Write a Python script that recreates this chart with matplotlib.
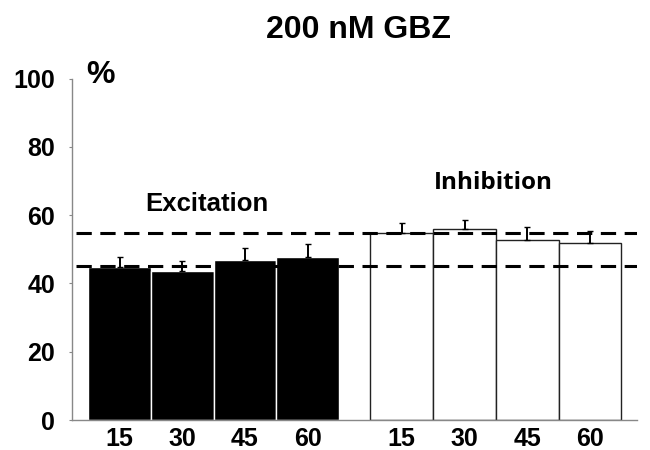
import matplotlib
matplotlib.use("Agg")
import matplotlib.pyplot as plt
import numpy as np

plt.rcParams['font.family'] = ['Liberation Sans', 'DejaVu Sans']

title = "200 nM GBZ"
time_labels = ["15", "30", "45", "60"]
excitation = [44.7, 43.6, 46.8, 47.7]
excitation_err = [2.9, 3.0, 3.7, 3.8]
inhibition = [54.8, 55.9, 52.8, 51.8]
inhibition_err = [2.8, 2.6, 3.7, 3.6]
ref_lines = [54.8, 45.0]
y_ticks = [0, 20, 40, 60, 80, 100]

fig = plt.figure(figsize=(6.5, 4.5), dpi=100)
ax = fig.add_axes([72/650, 1-420/450, 565/650, 341.5/450])

x_exc = np.arange(4)
x_inh = np.arange(4) + 4.5

ax.bar(x_exc, excitation, width=1.0, color='black', edgecolor='white', linewidth=1.0, zorder=2)
ax.bar(x_inh, inhibition, width=1.0, color='white', edgecolor='#222222', linewidth=1.0, zorder=2)

ax.errorbar(x_exc, excitation, yerr=[np.zeros(4), excitation_err], fmt='none',
            ecolor='black', elinewidth=1.4, capsize=2.5, capthick=1.0, zorder=3)
ax.errorbar(x_inh, inhibition, yerr=[np.zeros(4), inhibition_err], fmt='none',
            ecolor='black', elinewidth=1.4, capsize=2.5, capthick=1.0, zorder=3)

xmin, xmax = -0.758, 8.25
for v in ref_lines:
    ax.plot([-0.69, xmax], [v, v], color='black', linestyle=(0, (5, 2.8)), linewidth=2.2, zorder=4)

ax.set_xlim(xmin, xmax)
ax.set_ylim(0, 100)
ax.set_yticks(y_ticks)
ax.set_yticklabels([str(t) for t in y_ticks], fontsize=18, fontweight='bold')
ax.set_xticks(list(x_exc) + list(x_inh))
ax.set_xticklabels(time_labels + time_labels, fontsize=18, fontweight='bold')
ax.tick_params(axis='y', length=2, color='#888888', pad=10)
ax.tick_params(axis='x', length=0, pad=5)

for s in ['top', 'right']:
    ax.spines[s].set_visible(False)
for s in ['left', 'bottom']:
    ax.spines[s].set_color('#888888')
    ax.spines[s].set_linewidth(1.0)

ax.text(0.05, 1.01, "%", transform=ax.transAxes, fontsize=23, fontweight='bold',
        ha='center', va='center')
ax.text(1.40, 63.2, "Excitation", fontsize=18.5, fontweight='bold', ha='center', va='center')
ax.text(5.96, 69.4, "Inhibition", fontsize=17.5, fontweight='bold', ha='center', va='center',
        family=['Open Sans', 'DejaVu Sans'])

fig.text(358/650, 1-30/450, title, fontsize=23, fontweight='bold', ha='center', va='center')

fig.savefig("out.png", dpi=100)
